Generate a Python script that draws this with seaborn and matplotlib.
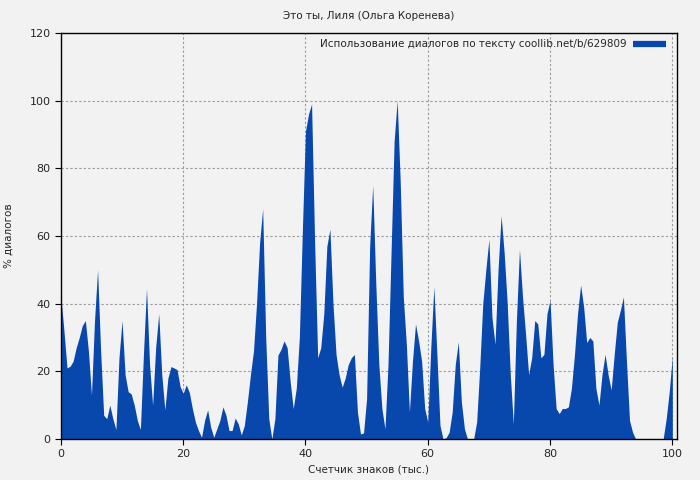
import numpy as np
import pandas as pd
import matplotlib
matplotlib.use("Agg")
import matplotlib.pyplot as plt
from matplotlib.lines import Line2D
import seaborn as sns

# ---- data -------------------------------------------------------------
title = "Это ты, Лиля (Ольга Коренева)"
series_label = "Использование диалогов по тексту coollib.net/b/629809"
x_label = "Счетчик знаков (тыс.)"
y_label = "% диалогов"
x_ticks = [0, 20, 40, 60, 80, 100]
y_ticks = [0, 20, 40, 60, 80, 100, 120]
step = 0.5  # thousand characters per sample

share_0_20 = [42, 32, 21, 21.5, 23, 27, 30, 33.5, 35, 26,
              13, 35, 50, 26, 7, 6, 10, 6, 2.8, 24,
              35, 19, 14, 13.3, 10, 5.5, 2.8, 25, 44.5, 22,
              10, 27, 37, 19, 8.6, 18, 21.4, 21, 20.5, 15.5]
share_20_40 = [13.5, 16, 13.8, 9, 5, 2.5, 0.5, 5.5, 8.6, 3.5,
               0.5, 3, 5.5, 9.5, 7, 2.5, 2.5, 6.2, 4.5, 1.2,
               4, 11, 19, 26, 40, 58, 68, 30, 6, 0,
               6, 24.8, 26.5, 29, 27, 17, 9, 15, 30, 62]
share_40_60 = [91, 96, 99, 58, 24, 27, 37, 57, 62, 40,
               25, 19, 15.3, 18, 22, 24, 25, 8, 1.5, 1.8,
               12, 57, 75, 46, 22, 9, 3, 22, 55, 88,
               100, 76, 42, 28, 8, 23, 34, 29, 23, 9]
share_60_80 = [5, 27, 45, 25, 4, 0, 0.4, 2, 8, 22,
               28.7, 11, 3, 0, 0, 0, 5, 21, 40, 50,
               59, 36, 28, 50, 66, 55, 40, 19, 4.5, 35,
               56, 42, 31, 19, 24, 35, 34, 24, 25, 37]
share_80_100 = [41, 22, 9, 7.5, 9, 9, 9.5, 15, 25, 37,
                45.5, 39, 28.5, 30, 29, 15, 10, 19, 25, 19,
                14.5, 25, 34.5, 38, 42, 23, 5.5, 2, 0, 0,
                0, 0, 0, 0, 0, 0, 0, 0, 6, 14, 24.5]

share = share_0_20 + share_20_40 + share_40_60 + share_60_80 + share_80_100
counter = np.arange(len(share)) * step
df = pd.DataFrame({"counter": counter, "share": share})

# ---- style ------------------------------------------------------------
bg = "#F2F2F2"
blue = "#0847AC"
sns.set_style("ticks")
plt.rcParams["font.family"] = ["DejaVu Sans"]

fig = plt.figure(figsize=(7, 4.8), dpi=100, facecolor=bg)
ax = fig.add_axes([0.087, 0.0854, 0.88, 0.846])
ax.set_facecolor(bg)

sns.histplot(data=df, x="counter", weights="share", binwidth=step,
             binrange=(-step / 2, float(counter[-1]) + step / 2),
             element="poly", fill=True, color=blue, alpha=1,
             linewidth=0, ax=ax)

ax.set_xlim(0, 100.75)
ax.set_ylim(0, 120)
ax.set_xticks(x_ticks)
ax.set_yticks(y_ticks)
ax.grid(True, color="#999999", linestyle=(0, (2, 2)), linewidth=0.8)
ax.set_axisbelow(True)
for s in ax.spines.values():
    s.set_color("black")
    s.set_linewidth(1.0)
ax.tick_params(labelsize=8, length=4, direction="out", color="black")

ax.set_xlabel(x_label, fontsize=7.5, labelpad=4)
ax.set_ylabel(y_label, fontsize=7.5, labelpad=11)
ax.set_title(title, fontsize=7.5, pad=10)

handle = Line2D([], [], color=blue, linewidth=4.5, solid_capstyle="butt")
leg = ax.legend([handle], [series_label], loc="upper right",
                bbox_to_anchor=(1.0, 1.01),
                frameon=False, markerfirst=False, fontsize=7.5,
                handlelength=3.2, borderaxespad=0.6, handletextpad=0.6)

fig.savefig("out.png", dpi=100, facecolor=bg)
